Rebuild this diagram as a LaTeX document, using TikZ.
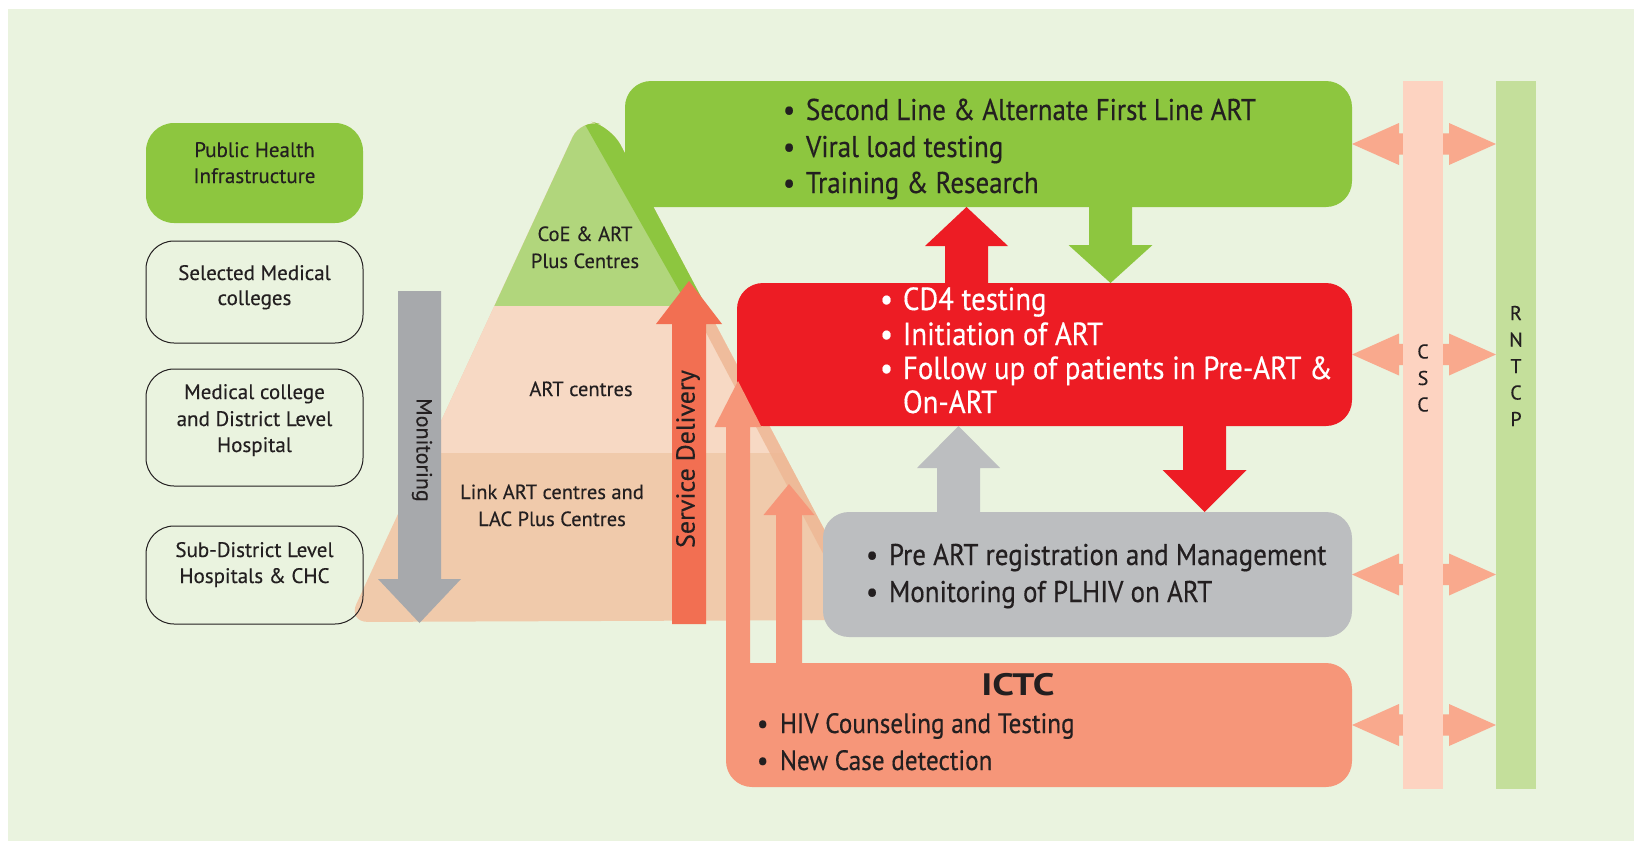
\documentclass[tikz,border=0pt]{standalone}
\usepackage{fontspec}
\setmainfont{PT Sans}
\newfontfamily\narrowsans[FakeStretch=0.9,FakeBold=0.4]{PT Sans}
\newfontfamily\widesans[FakeStretch=1.25]{PT Sans}
\newfontfamily\levelsans[FakeBold=0.3]{PT Sans}
\usetikzlibrary{calc}

\definecolor{bgpale}{HTML}{EAF3DF}
\definecolor{leafgreen}{HTML}{8DC63F}
\definecolor{palegreen}{HTML}{B1D67C}
\definecolor{peachlight}{HTML}{F7D9C4}
\definecolor{peachdark}{HTML}{F0CAAB}
\definecolor{sideband}{HTML}{EEB895}
\definecolor{alertred}{HTML}{ED1C24}
\definecolor{coolgrey}{HTML}{BCBEC0}
\definecolor{darkgrey}{HTML}{A7A9AC}
\definecolor{salmon}{HTML}{F69679}
\definecolor{tomato}{HTML}{F26F52}
\definecolor{linkarrow}{HTML}{F9A98D}
\definecolor{cscfill}{HTML}{FDD3C1}
\definecolor{rntcpfill}{HTML}{C4DF9B}
\definecolor{ink}{HTML}{231F20}

\newcommand\bul{\makebox[23pt][l]{\textbullet}}

\begin{document}
\begin{tikzpicture}[x=1pt,y=-1pt,
  every node/.style={inner sep=0pt,outer sep=0pt,text=ink},
  blockarrow/.style n args={3}{to path={
    let \p1=(\tikztostart), \p2=(\tikztotarget),
        \n1={atan2(\y2-\y1,\x2-\x1)},
        \p3=($(\p2)!#3!(\p1)$)
    in -- ($(\p1)+(\n1+90:#1)$)
       -- ($(\p3)+(\n1+90:#1)$)
       -- ($(\p3)+(\n1+90:#2)$)
       -- (\p2)
       -- ($(\p3)+(\n1-90:#2)$)
       -- ($(\p3)+(\n1-90:#1)$)
       -- ($(\p1)+(\n1-90:#1)$)
       -- cycle}},
  panel/.style={rounded corners=26pt},
  tier/.style={rounded corners=28pt, minimum width=217pt, draw=ink, line width=1pt},
  bar/.style={minimum width=40pt, minimum height=708pt},
  listline/.style={anchor=base west, font=\narrowsans\fontsize{30}{34}\selectfont},
  redline/.style={listline, text=white, font=\narrowsans\fontsize{32}{34}\selectfont},
  ictcline/.style={listline, font=\narrowsans\fontsize{28}{34}\selectfont},
  tiertext/.style={anchor=base, font=\levelsans\fontsize{21}{24}\selectfont},
  pyrtext/.style={anchor=base, font=\levelsans\fontsize{20.5}{25}\selectfont},
  barletters/.style={align=center, font=\levelsans\fontsize{20}{26.5}\selectfont}
]
\useasboundingbox (0,0) rectangle (1634,841);
\fill[white] (0,0) rectangle (1634,841);
\fill[bgpale] (8,9) rectangle (1634,841);

% ---- the pyramid of service levels
\begin{scope}
  \clip[rounded corners=20pt] (348,622) -- (581,119) -- (611,127) -- (850,578) -- (850,620) -- cycle;
  \fill[peachdark] (300,100) rectangle (900,640);
  \fill[peachlight] (300,100) rectangle (900,453);
  \fill[palegreen] (300,100) rectangle (900,306);
  \fill[leafgreen] (583,121) -- (650,100) -- (760,306) -- (688,306) -- cycle;
  \fill[sideband,opacity=0.85] (692,306) -- (760,306) -- (900,578) -- (836,578) -- cycle;
\end{scope}

% ---- facility levels on the left
\node[tier, fill=leafgreen, draw=none, minimum height=100pt] (phi) at (254.5,173) {};
\node[tier, minimum height=102pt] (smc) at (254.5,292) {};
\node[tier, minimum height=117pt] (mcd) at (254.5,427.5) {};
\node[tier, minimum height=98pt] (sdh) at (254.5,575) {};

% ---- service panels
\node[panel, fill=leafgreen, minimum width=727pt, minimum height=126pt] (topbox) at (988.5,144) {};
\node[panel, fill=alertred, minimum width=615pt, minimum height=143pt] (midbox) at (1044.5,354.5) {};
\node[panel, fill=coolgrey, minimum width=529pt, minimum height=125pt] (lowbox) at (1087.5,574.5) {};
\node[panel, fill=salmon, minimum width=626pt, minimum height=124pt] (ictc) at (1039,725) {};

% ---- flows between panels
\coordinate (xup) at (966.5,0);
\coordinate (xdown) at (1110.5,0);
\coordinate (xgrey) at (958.5,0);
\coordinate (xred) at (1204.5,0);
\fill[alertred] (midbox.north -| xup) to[blockarrow={21.5pt}{41.5pt}{39pt}] (topbox.south -| xup);
\fill[leafgreen] (topbox.south -| xdown) to[blockarrow={21.5pt}{42pt}{38pt}] (midbox.north -| xdown);
\fill[coolgrey] (lowbox.north -| xgrey) to[blockarrow={21.5pt}{41.5pt}{42pt}] (midbox.south -| xgrey);
\fill[alertred] (midbox.south -| xred) to[blockarrow={21.5pt}{42pt}{42pt}] (lowbox.north -| xred);

% ---- ICTC referral arrows
\coordinate (ictcA) at (738,700);
\coordinate (tipA) at (738,381);
\coordinate (ictcB) at (789,700);
\coordinate (tipB) at (789,484);
\fill[salmon] (ictcA) to[blockarrow={12pt}{23.5pt}{46pt}] (tipA);
\fill[salmon] (ictcB) to[blockarrow={13pt}{25.5pt}{31pt}] (tipB);

% ---- monitoring and service delivery
\coordinate (montop) at (419.5,291);
\coordinate (montip) at (419.5,623);
\fill[darkgrey] (montop) to[blockarrow={21.5pt}{41.5pt}{44pt}] (montip);
\coordinate (sdtail) at (689,624);
\coordinate (sdtip) at (689,281);
\fill[tomato] (sdtail) to[blockarrow={17pt}{33pt}{43pt}] (sdtip);

% ---- CSC and RNTCP links
\node[bar] (csc) at (1423,435) {};
\node[bar] (rntcp) at (1516,435) {};
\foreach \b in {topbox,midbox,lowbox,ictc}{
  \fill[linkarrow] (csc.center |- \b.east) to[blockarrow={10.7pt}{21pt}{47pt}] (\b.east);
  \fill[linkarrow] (csc.center |- \b.east) to[blockarrow={10.7pt}{21pt}{47pt}] (rntcp.west |- \b.east);
}
\node[bar, fill=cscfill] (cscbar) at (csc) {};
\node[bar, fill=rntcpfill] (rntcpbar) at (rntcp) {};
\node[barletters] (csclabel) at (1423,378) {C\\S\\C};
\node[barletters] (rntcplabel) at (1516,366) {R\\N\\T\\C\\P};

% ---- panel texts
\node[listline] (l11) at (783,120) {\bul Second Line \& Alternate First Line ART};
\node[listline] (l12) at (783,157) {\bul Viral load testing};
\node[listline] (l13) at (783,193) {\bul Training \& Research};

\node[redline] (l21) at (880,310) {\bul CD4 testing};
\node[redline] (l22) at (880,345) {\bul Initiation of ART};
\node[redline] (l23) at (880,379) {\bul Follow up of patients in Pre-ART \&};
\node[redline] (l24) at (903,413) {On-ART};

\node[listline] (l31) at (866,565) {\bul Pre ART registration and Management};
\node[listline] (l32) at (866,602) {\bul Monitoring of PLHIV on ART};

\node[anchor=base, font=\widesans\bfseries\fontsize{31}{34}\selectfont] (l40) at (1018,695) {ICTC};
\node[ictcline] (l41) at (757,733) {\bul HIV Counseling and Testing};
\node[ictcline] (l42) at (757,770) {\bul New Case detection};

% ---- facility level texts
\node[tiertext] (t11) at (254.5,157) {Public Health};
\node[tiertext] (t12) at (254.5,183) {Infrastructure};
\node[tiertext] (t21) at (254.5,280) {Selected Medical};
\node[tiertext] (t22) at (254.5,305) {colleges};
\node[tiertext] (t31) at (254.5,399) {Medical college};
\node[tiertext] (t32) at (254.5,426) {and District Level};
\node[tiertext] (t33) at (254.5,452) {Hospital};
\node[tiertext] (t41) at (254.5,557) {Sub-District Level};
\node[tiertext] (t42) at (254.5,583) {Hospitals \& CHC};

% ---- pyramid texts
\node[pyrtext] (p11) at (585,241) {CoE \& ART};
\node[pyrtext] (p12) at (585,268) {Plus Centres};
\node[pyrtext] (p21) at (581,396) {ART centres};
\node[pyrtext] (p31) at (552,499) {Link ART centres and};
\node[pyrtext] (p32) at (552,526) {LAC Plus Centres};

\node[rotate=-90, font=\levelsans\fontsize{22}{26}\selectfont] (monlabel) at (422,450) {Monitoring};
\node[rotate=90, font=\levelsans\fontsize{26}{30}\selectfont] (sdlabel) at (688,459) {Service Delivery};
\end{tikzpicture}
\end{document}
